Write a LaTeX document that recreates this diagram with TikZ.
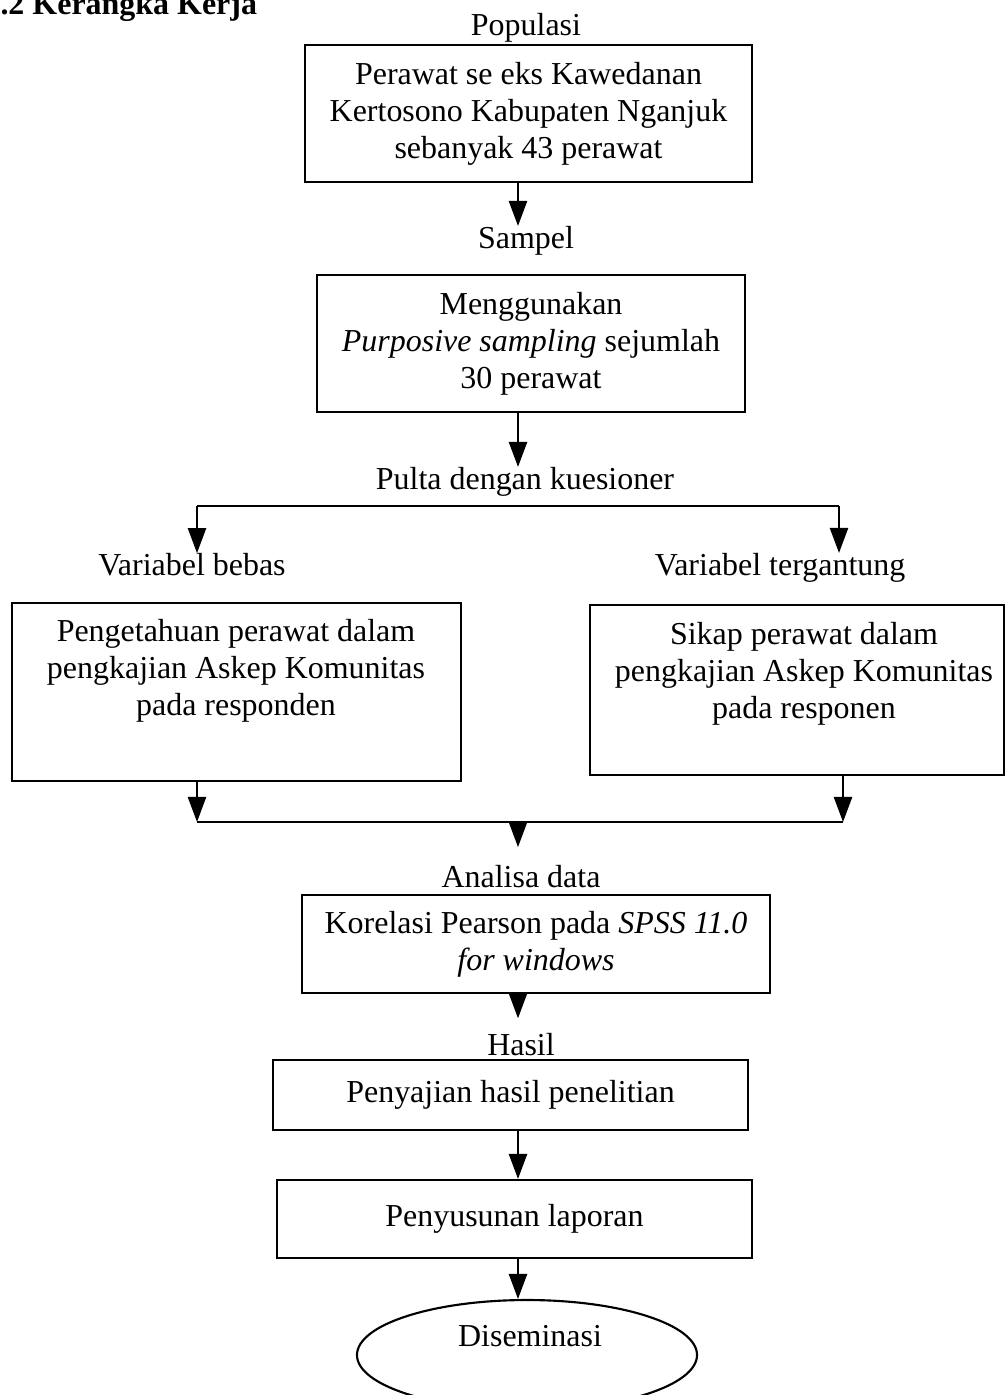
\documentclass[tikz,border=0pt]{standalone}
\usepackage{fontspec}
\setmainfont{Liberation Serif}
\usetikzlibrary{arrows.meta,fit,shapes.geometric}

\begin{document}
\begin{tikzpicture}[x=0.0132cm, y=-0.0132cm,
    kotak/.style={draw, line width=0.8pt, inner sep=0pt},
    teks/.style={inner sep=0pt, align=center, font=\fontsize{12pt}{13.9pt}\selectfont},
    panah/.style={-{Triangle[length=9.4pt,width=6.8pt]}, line width=0.8pt}]
    \useasboundingbox (0,0) rectangle (1007,1395);
    \clip (0,0) rectangle (1007,1395);
    \node[anchor=base west, inner sep=0pt, font=\bfseries\fontsize{12pt}{14pt}\selectfont] (judul) at (-16,15) {3.2 Kerangka Kerja};
    % sumbu tengah
    \coordinate (sumbu) at (518,0);
    \node[teks] (populasi) at (526,28) {Populasi};
    \node[kotak, fit={(305,45) (752,182)}] (pop) {};
    \node[teks] (poptxt) at (pop.center) {Perawat se eks Kawedanan\\Kertosono Kabupaten Nganjuk\\sebanyak 43 perawat};
    \node[teks] (sampel) at (526,241) {Sampel};
    \node[kotak, fit={(317,275) (745,412)}] (sampling) {};
    \node[teks] (samplingtxt) at (sampling.center) {Menggunakan\\\textit{Purposive sampling} sejumlah\\30 perawat};
    \node[teks] (pulta) at (525,482) {Pulta dengan kuesioner};
    \coordinate (cabangL) at (197,506);
    \coordinate (cabangR) at (839,506);
    \node[teks] (bebas) at (192,565) {Variabel bebas};
    \node[teks] (tergantung) at (780,568) {Variabel tergantung};
    \node[kotak, fit={(12,603) (461,781)}] (bebasbox) {};
    \node[teks] (bebastxt) at (236,671) {Pengetahuan perawat dalam\\pengkajian Askep Komunitas\\pada responden};
    \node[kotak, fit={(590,605) (1004,775)}] (terikatbox) {};
    \node[teks] (terikattxt) at (804,674) {Sikap perawat dalam\\pengkajian Askep Komunitas\\pada responen};
    \coordinate (gabungL) at (197,822);
    \coordinate (gabungR) at (843,822);
    \node[teks] (analisa) at (521,877) {Analisa data};
    \node[kotak, fit={(302,895) (770,993)}] (korelasi) {};
    \node[teks] (korelasitxt) at (korelasi.center) {Korelasi Pearson pada \textit{SPSS 11.0}\\\textit{for windows}};
    \node[teks] (hasil) at (521,1045) {Hasil};
    \node[kotak, fit={(273,1060) (748,1130)}] (penyajian) {};
    \node[teks] (penyajiantxt) at (penyajian.center) {Penyajian hasil penelitian};
    \node[kotak, fit={(277,1180) (752,1258)}] (laporan) {};
    \node[teks] (laporantxt) at (laporan.center) {Penyusunan laporan};
    \node[kotak, ellipse, minimum width=127.7pt, minimum height=41.3pt] (disem) at (527,1355) {};
    \node[teks] (disemtxt) at (530,1336) {Diseminasi};

    \draw[panah] (pop.south -| sumbu) -- (sampel.north -| sumbu);
    \draw[panah] (sampling.south -| sumbu) -- (pulta.north -| sumbu);
    \draw[line width=0.8pt] (cabangL) -- (cabangR);
    \draw[panah] (cabangL) -- (cabangL |- bebas.north);
    \draw[panah] (cabangR) -- (cabangR |- tergantung.north);
    \draw[panah] (bebasbox.south -| gabungL) -- (gabungL);
    \draw[panah] (terikatbox.south -| gabungR) -- (gabungR);
    \draw[line width=0.8pt] (gabungL) -- (gabungR);
    \draw[panah, shorten >=6.8pt] (gabungL -| sumbu) -- (analisa.north -| sumbu);
    \draw[panah, shorten >=5.6pt] (korelasi.south -| sumbu) -- (hasil.north -| sumbu);
    \draw[panah] (penyajian.south -| sumbu) -- (laporan.north -| sumbu);
    \draw[panah] (laporan.south -| sumbu) -- (disem.north -| sumbu);
\end{tikzpicture}
\end{document}
